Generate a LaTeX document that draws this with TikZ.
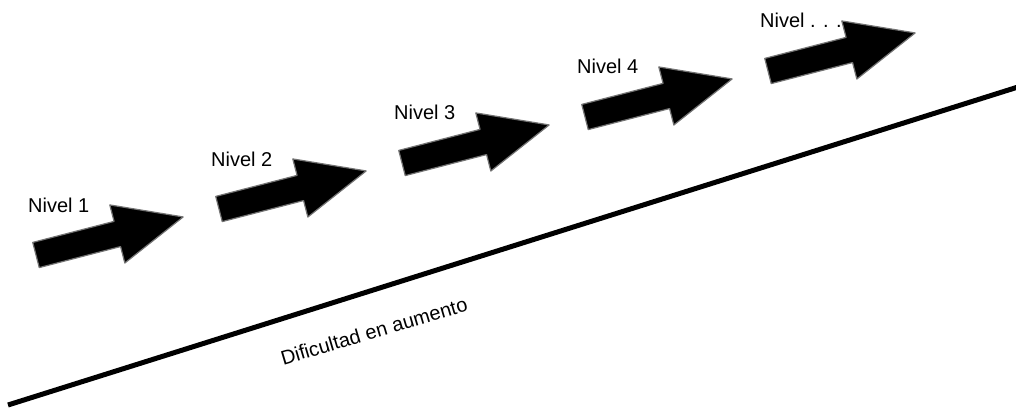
\documentclass[tikz,border=0pt]{standalone}
\usepackage{fontspec}
\setmainfont{Liberation Sans}
\usetikzlibrary{calc}
\begin{document}
\begin{tikzpicture}
		[x=1pt,y=-1pt,font=\fontsize{20}{24}\selectfont,
		 lvl/.style={fill=black,draw=black!55,line width=1.2pt,line join=round}]

        \useasboundingbox (0,0) rectangle (1016,409);

        % base line
        \coordinate (L1) at (8,405);
        \coordinate (L2) at (1018,87);
        \draw[line width=5pt] (L1) -- (L2);

        \node[rotate=16.5] (diff) at (374,331) {Dificultad en aumento};

        \foreach \i/\lab in {0/1,1/2,2/3,3/4,4/{. . .}} {
            \pgfmathsetmacro{\ax}{36+183*\i}
            \pgfmathsetmacro{\ay}{255-46*\i}
            \coordinate (A\i) at (\ax,\ay);
            \begin{scope}[shift={(A\i)},rotate=14.5,x=1pt,y=1pt]
                \filldraw[lvl] (0,13) -- (84,13) -- (84,30) -- (152,0) -- (84,-30) -- (84,-13) -- (0,-13) -- cycle;
            \end{scope}
            \node[anchor=base west,inner sep=0pt] (N\i) at ($(A\i)+(-8,-43)$) {Nivel \lab};
        }

    \end{tikzpicture}
\end{document}
